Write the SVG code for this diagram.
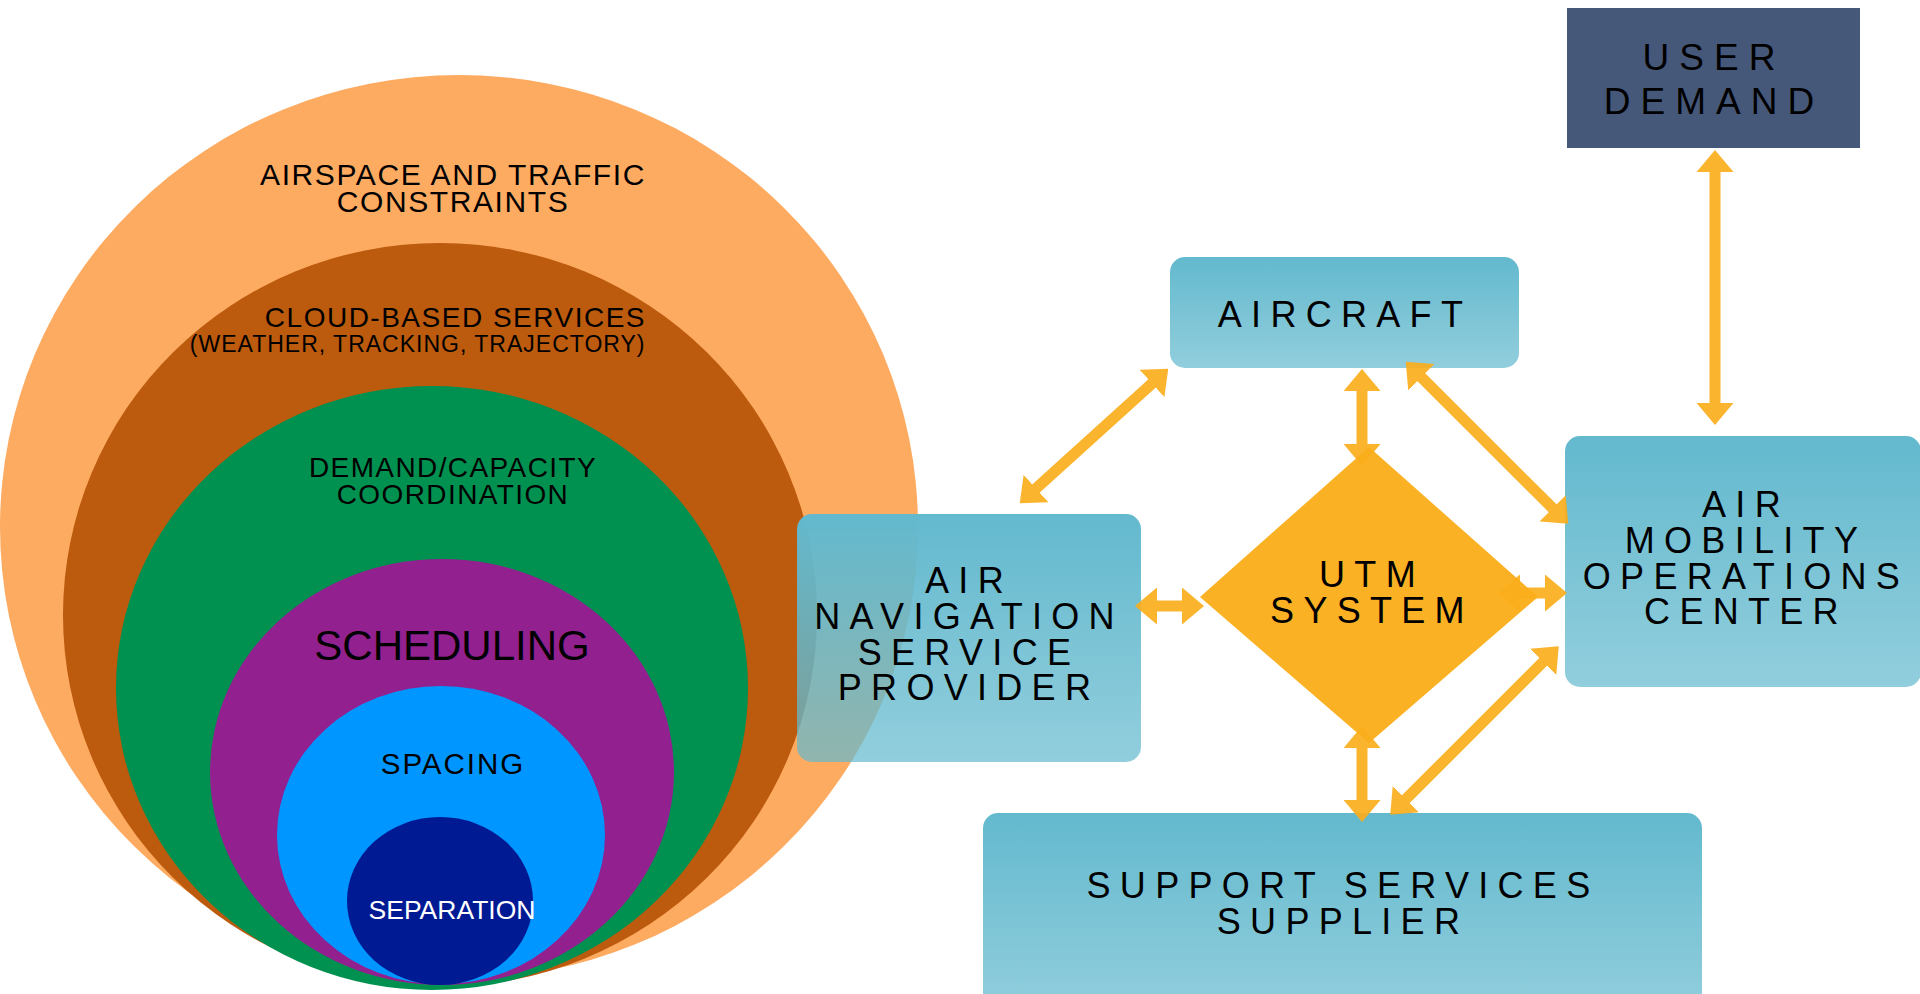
<svg xmlns="http://www.w3.org/2000/svg" width="1920" height="994" viewBox="0 0 1920 994">
<defs>
  <linearGradient id="boxGrad" x1="0" y1="0" x2="0" y2="1">
    <stop offset="0" stop-color="#63B9CE" stop-opacity="1"/>
    <stop offset="1" stop-color="#63B9CE" stop-opacity="0.7"/>
  </linearGradient>
  <marker id="head" markerUnits="userSpaceOnUse" viewBox="0 0 22 37" markerWidth="22" markerHeight="37" refX="1" refY="18.5" orient="auto-start-reverse">
    <path d="M0,0 L22,18.5 L0,37 z" fill="#FBAE1C"/>
  </marker>
</defs>
<style>
  text { font-family: "Liberation Sans", Arial, sans-serif; fill: #000; }
  .ring { font-size: 28px; letter-spacing: 1.4px; text-anchor: middle; }
  .box { fill: url(#boxGrad); }
  .lbl { font-size: 36px; letter-spacing: 9.3px; text-anchor: middle; }
  .conn line { stroke: #FBAE1C; stroke-width: 11; fill: none; marker-start: url(#head); marker-end: url(#head); }
</style>

<g id="rings">
  <ellipse id="ring-airspace" cx="459" cy="527" rx="459" ry="452" fill="#FEAB62"/>
  <ellipse id="ring-cloud" cx="440" cy="615" rx="377" ry="372" fill="#BC5A0D"/>
  <ellipse id="ring-demand" cx="432" cy="688" rx="316" ry="302" fill="#009150"/>
  <ellipse id="ring-scheduling" cx="442" cy="772" rx="232" ry="213" fill="#92208F"/>
  <ellipse id="ring-spacing" cx="441" cy="835" rx="164" ry="149" fill="#0096FF"/>
  <ellipse id="ring-separation" cx="440" cy="901" rx="93" ry="84" fill="#001A94"/>
  <text class="ring" x="453" y="185" style="font-size:30px;letter-spacing:1.6px">AIRSPACE AND TRAFFIC</text>
  <text class="ring" x="453" y="211.7" style="font-size:30px;letter-spacing:1.6px">CONSTRAINTS</text>
  <text class="ring" x="646" y="326.7" style="text-anchor:end;letter-spacing:1.5px">CLOUD-BASED SERVICES</text>
  <text class="ring" x="645.5" y="351.5" style="text-anchor:end;font-size:23px;letter-spacing:1px">(WEATHER, TRACKING, TRAJECTORY)</text>
  <text class="ring" x="453" y="476.7">DEMAND/CAPACITY</text>
  <text class="ring" x="453" y="504.3">COORDINATION</text>
  <text class="ring" x="452" y="660" style="font-size:42px;letter-spacing:0">SCHEDULING</text>
  <text class="ring" x="453" y="774.3" style="font-size:29.5px;letter-spacing:2px">SPACING</text>
  <text class="ring" x="452" y="919" style="font-size:26.5px;letter-spacing:0;fill:#FFFFFF">SEPARATION</text>
</g>

<g id="user-demand">
  <rect x="1567" y="8" width="293" height="140" fill="#46587A"/>
  <text class="lbl" x="1714" y="69.7" style="font-size:37px;letter-spacing:10px">USER</text>
  <text class="lbl" x="1714" y="113.7" style="font-size:37px;letter-spacing:10px">DEMAND</text>
</g>

<g id="aircraft">
  <rect class="box" x="1170" y="257" width="349" height="111" rx="15" ry="15"/>
  <text class="lbl" x="1345" y="327">AIRCRAFT</text>
</g>

<g id="ansp">
  <rect class="box" x="797" y="514" width="344" height="248" rx="15" ry="15"/>
  <text class="lbl" x="969" y="593">AIR</text>
  <text class="lbl" x="969" y="629">NAVIGATION</text>
  <text class="lbl" x="969" y="664.5">SERVICE</text>
  <text class="lbl" x="969" y="700">PROVIDER</text>
</g>

<g id="utm">
  <polygon points="1200,597 1369,447 1538,597 1369,743" fill="#FBB124"/>
  <text class="lbl" x="1372" y="587">UTM</text>
  <text class="lbl" x="1372" y="623">SYSTEM</text>
</g>

<g id="amoc">
  <rect class="box" x="1565" y="436" width="356" height="251" rx="15" ry="15"/>
  <text class="lbl" x="1746" y="517">AIR</text>
  <text class="lbl" x="1746" y="553">MOBILITY</text>
  <text class="lbl" x="1746" y="588.5">OPERATIONS</text>
  <text class="lbl" x="1746" y="624">CENTER</text>
</g>

<g id="support">
  <rect class="box" x="983" y="813" width="719" height="200" rx="15" ry="15"/>
  <text class="lbl" x="1343" y="898">SUPPORT SERVICES</text>
  <text class="lbl" x="1343" y="933.5">SUPPLIER</text>
</g>

<g id="connectors" class="conn" opacity="0.92">
  <line x1="1715" y1="171" x2="1715" y2="404"/>
  <line x1="1362" y1="390" x2="1362" y2="445"/>
  <line x1="1362" y1="747" x2="1362" y2="801"/>
  <line x1="1156" y1="606" x2="1183" y2="606"/>
  <line x1="1519" y1="593" x2="1546" y2="593"/>
  <line x1="1152.7" y1="382.8" x2="1035.3" y2="489.2"/>
  <line x1="1420.6" y1="376.5" x2="1553.4" y2="509"/>
  <line x1="1405.1" y1="799.9" x2="1543.9" y2="661.1"/>
</g>
</svg>
